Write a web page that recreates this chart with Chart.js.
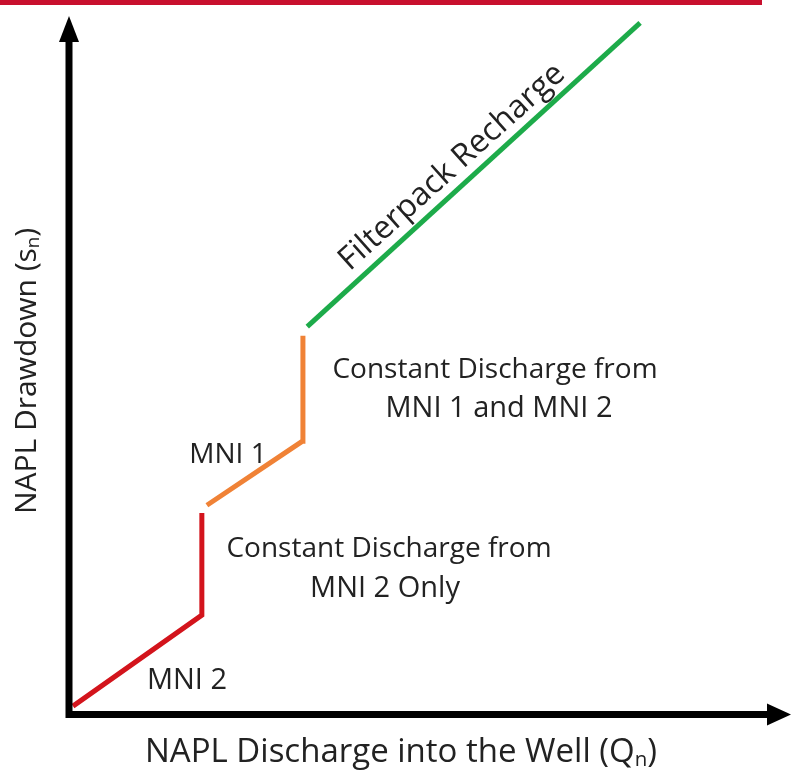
<!DOCTYPE html>
<html>
<head>
<meta charset="utf-8">
<script src="https://cdn.jsdelivr.net/npm/chart.js@4.4.0/dist/chart.umd.min.js"></script>
<style>
  html, body { margin: 0; padding: 0; background: #fff; }
  #myChart { display: block; }
</style>
</head>
<body>
<canvas id="myChart" width="794" height="780"></canvas>
<script>
// conceptual diagram, arbitrary units 0..100 on both axes
const mni2X = [0.55, 18.4, 18.4];
const mni2Y = [0.7, 13.8, 28.5];
const mni1X = [19.1, 32.3, 32.4];
const mni1Y = [29.6, 38.8, 54.0];
const rechargeX = [33.0, 79.1];
const rechargeY = [55.3, 99.0];

const seriesNames = ['MNI 2', 'MNI 1', 'Filterpack Recharge'];
const seriesColors = ['#d3141c', '#f08236', '#1dab4a'];

const xTitle = 'NAPL Discharge into the Well (Q';
const yTitle = 'NAPL Drawdown (s';

const FONT = '"Open Sans", "Liberation Sans", sans-serif';
const TEXT_COLOR = '#222';

function pts(xs, ys) {
  return xs.map((x, i) => ({ x: x, y: ys[i] }));
}

// text with subscript n and closing bracket
function subText(ctx, text, x, y, size) {
  ctx.font = size + 'px ' + FONT;
  const w1 = ctx.measureText(text).width;
  ctx.font = (size * 0.62) + 'px ' + FONT;
  const w2 = ctx.measureText('n').width;
  ctx.font = size + 'px ' + FONT;
  const w3 = ctx.measureText(')').width;
  let start = x - (w1 + w2 + w3) / 2;
  ctx.textAlign = 'left';
  ctx.fillText(text, start, y);
  ctx.font = (size * 0.62) + 'px ' + FONT;
  ctx.fillText('n', start + w1, y + size * 0.22);
  ctx.font = size + 'px ' + FONT;
  ctx.fillText(')', start + w1 + w2, y);
}

const decor = {
  id: 'decor',
  afterDatasetsDraw(chart) {
    const ctx = chart.ctx;
    const xs = chart.scales.x, ys = chart.scales.y;
    const px = v => xs.getPixelForValue(v);
    const py = v => ys.getPixelForValue(v);
    ctx.save();

    // red band at top
    ctx.fillStyle = '#c8102e';
    ctx.fillRect(0, 0, 762, 5);

    // axes with arrow heads
    const x0 = px(0), y0 = py(0);
    const xTip = px(100), yTip = py(100);
    ctx.strokeStyle = '#000';
    ctx.fillStyle = '#000';
    ctx.lineWidth = 7;
    ctx.lineCap = 'butt';
    ctx.beginPath();
    ctx.moveTo(x0, yTip + 20);
    ctx.lineTo(x0, y0 + 3.5);
    ctx.lineTo(xTip - 20, y0 + 3.5);
    ctx.stroke();
    ctx.beginPath();
    ctx.moveTo(x0, yTip);
    ctx.lineTo(x0 - 10, yTip + 26);
    ctx.lineTo(x0 + 10, yTip + 26);
    ctx.closePath();
    ctx.fill();
    ctx.beginPath();
    ctx.moveTo(xTip, y0 + 3.5);
    ctx.lineTo(xTip - 24, y0 + 3.5 - 11);
    ctx.lineTo(xTip - 24, y0 + 3.5 + 11);
    ctx.closePath();
    ctx.fill();

    // annotations
    ctx.fillStyle = TEXT_COLOR;
    ctx.textBaseline = 'middle';
    ctx.textAlign = 'center';
    ctx.font = '29px ' + FONT;
    ctx.fillText('MNI 2', 187, 681);
    ctx.font = '28px ' + FONT;
    ctx.fillText('MNI 1', 228, 455);
    ctx.font = '29px ' + FONT;
    ctx.fillText('MNI 2 Only', 385, 589);
    ctx.fillText('MNI 1 and MNI 2', 499, 409);
    ctx.font = '28px ' + FONT;
    ctx.fillText('Constant Discharge from', 389, 549);
    ctx.fillText('Constant Discharge from', 495, 370);

    ctx.save();
    ctx.translate(452, 167);
    ctx.rotate(-42 * Math.PI / 180);
    ctx.font = '32px ' + FONT;
    ctx.fillText('Filterpack Recharge', 0, 0);
    ctx.restore();

    // axis titles
    subText(ctx, xTitle, 401, 753, 33);
    ctx.save();
    ctx.translate(27, 371);
    ctx.rotate(-Math.PI / 2);
    subText(ctx, yTitle, 0, 0, 30);
    ctx.restore();

    ctx.restore();
  }
};

const ctx = document.getElementById('myChart');
const datasets = [pts(mni2X, mni2Y), pts(mni1X, mni1Y), pts(rechargeX, rechargeY)].map((d, i) => ({
  label: seriesNames[i],
  data: d,
  showLine: true,
  borderColor: seriesColors[i],
  backgroundColor: seriesColors[i],
  borderWidth: 5,
  pointRadius: 0,
  tension: 0,
  borderJoinStyle: 'miter'
}));

new Chart(ctx, {
  type: 'scatter',
  data: { datasets: datasets },
  options: {
    responsive: false,
    animation: false,
    layout: { padding: { left: 69, right: 3, top: 16, bottom: 69 } },
    plugins: { legend: { display: false }, tooltip: { enabled: false } },
    scales: {
      x: { type: 'linear', min: 0, max: 100, display: false },
      y: { type: 'linear', min: 0, max: 100, display: false }
    }
  },
  plugins: [decor]
});
</script>
</body>
</html>
